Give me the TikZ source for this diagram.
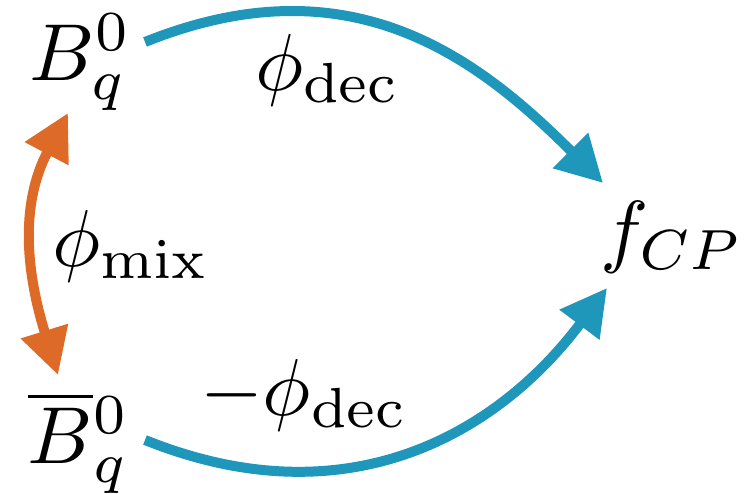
\documentclass[tikz,border=0pt]{standalone}
\usetikzlibrary{arrows.meta}
\definecolor{cpblue}{RGB}{31,151,186}
\definecolor{mixorange}{RGB}{221,106,38}
\tikzset{
  lbl/.style={inner sep=0pt, outer sep=0pt, anchor=base west, font=\normalsize, scale=4.6},
  decarrow/.style={draw=cpblue, line width=0.2cm, -{Triangle[length=0.92cm,width=0.95cm]}},
  mixarrow/.style={draw=mixorange, line width=0.2cm, {Triangle[length=0.92cm,width=0.94cm]}-{Triangle[length=0.92cm,width=0.94cm]}}
}
\begin{document}
\begin{tikzpicture}[x=0.02cm, y=-0.02cm]
\useasboundingbox (0,0) rectangle (745,494);
\node[lbl] (B) at (30,80) {$B_q^0$};
\node[lbl] (Bbar) at (28,463) {$\overline{B}{}_q^0$};
\node[lbl] (f) at (600,257) {$f_{CP}$};
\node[lbl] (mix) at (52,266) {$\phi_{\mathrm{mix}}$};
\node[lbl] (dec) at (255,90) {$\phi_{\mathrm{dec}}$};
\node[lbl] (mdec) at (200,415) {$-\phi_{\mathrm{dec}}$};
\coordinate (Bs) at (145,42);
\coordinate (Bbs) at (145,440);
\coordinate (ft) at (603,183);
\coordinate (fb) at (607,288);
\coordinate (mt) at (68,113);
\coordinate (mb) at (58,375);
\draw[decarrow] (Bs) .. controls (349,-40) and (476,56) .. (ft);
\draw[decarrow] (Bbs) .. controls (349,522) and (499,432) .. (fb);
\draw[mixarrow] (mt) .. controls (19,206) and (27,275) .. (mb);
\end{tikzpicture}
\end{document}
